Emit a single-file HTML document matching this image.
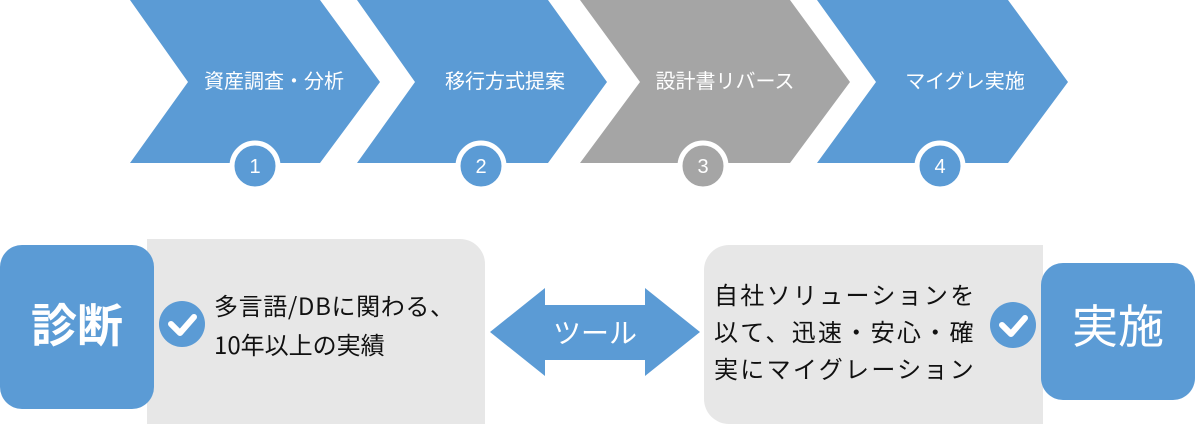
<!DOCTYPE html>
<html><head><meta charset="utf-8"><style>
body{margin:0;width:1195px;height:424px;background:#fff;overflow:hidden;position:relative;font-family:"Liberation Sans","Noto Sans CJK JP",sans-serif}
.a{position:absolute}
</style></head><body>
<svg class="a" style="left:0;top:0" width="1195" height="424">
<polygon points="130,0 320,0 380,82 320,163 130,163 188,82" fill="#5b9bd5"/>
<polygon points="357,0 548,0 607,82 548,163 357,163 415,82" fill="#5b9bd5"/>
<polygon points="580,0 790,0 850,82 790,163 580,163 640,82" fill="#a5a5a5"/>
<polygon points="817,0 1008,0 1068,82 1008,163 817,163 876,82" fill="#5b9bd5"/>
<g font-family="Noto Sans CJK JP,sans-serif" fill="#fff" font-size="20" text-anchor="middle">
<text x="274" y="88">資産調査・分析</text>
<text x="505" y="88">移行方式提案</text>
<text x="725" y="88">設計書リバース</text>
<text x="965" y="88">マイグレ実施</text>
</g>
<g stroke="#fff" stroke-width="5">
<circle cx="255" cy="166" r="23" fill="#5b9bd5"/>
<circle cx="481" cy="166" r="23" fill="#5b9bd5"/>
<circle cx="703" cy="166" r="23" fill="#a5a5a5"/>
<circle cx="940" cy="166" r="23" fill="#5b9bd5"/>
</g>
<g font-family="Liberation Sans,sans-serif" fill="#fff" font-size="20" text-anchor="middle">
<text x="255" y="173">1</text><text x="481" y="173">2</text><text x="703" y="173">3</text><text x="940" y="173">4</text>
</g>
<path d="M147,239 H460 A25,25 0 0 1 485,264 V424 H147 Z" fill="#e7e7e7"/>
<path d="M729,245 H1043 V424 H729 A25,25 0 0 1 704,399 V270 A25,25 0 0 1 729,245 Z" fill="#e7e7e7"/>
<rect x="0" y="245" width="154" height="164" rx="22" fill="#5b9bd5"/>
<rect x="1041" y="263" width="154" height="137" rx="22" fill="#5b9bd5"/>
<polygon points="490,332 545,288 545,305 645,305 645,288 700,332 645,376 645,360 545,360 545,376" fill="#5b9bd5"/>
<circle cx="182" cy="324" r="23" fill="#5b9bd5"/>
<circle cx="1013" cy="325" r="23" fill="#5b9bd5"/>
<polyline points="171,324 180,333 194,317" fill="none" stroke="#fff" stroke-width="6" stroke-linecap="round" stroke-linejoin="round"/>
<polyline points="1002,325 1011,334 1025,318" fill="none" stroke="#fff" stroke-width="6" stroke-linecap="round" stroke-linejoin="round"/>
<g font-family="Liberation Sans,Noto Sans CJK JP,sans-serif">
<text x="77" y="342" fill="#fff" font-size="46" font-weight="bold" text-anchor="middle">診断</text>
<text x="1118" y="343" fill="#fff" font-size="46" text-anchor="middle">実施</text>
<text x="595" y="343" fill="#fff" font-size="28" text-anchor="middle">ツール</text>
<text x="714" y="304" fill="#111" font-size="24" letter-spacing="2.3">自社ソリューションを</text>
<text x="714" y="341" fill="#111" font-size="24" letter-spacing="2.3">以て、迅速・安心・確</text>
<text x="714" y="378" fill="#111" font-size="24" letter-spacing="2.3">実にマイグレーション</text>
</g>
<g font-family="Noto Sans CJK JP,sans-serif" fill="#111" font-size="24">
<text x="214" y="315" textLength="240">多言語/DBに関わる、</text>
<text x="214" y="354">10年以上の実績</text>
</g>
</svg>
</body></html>
